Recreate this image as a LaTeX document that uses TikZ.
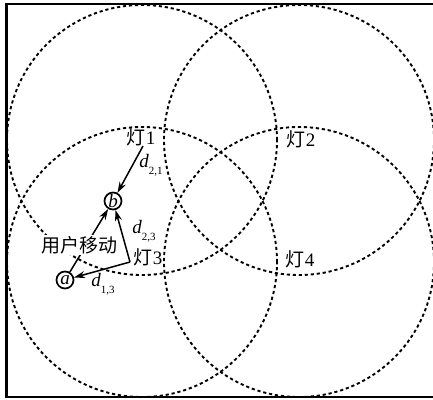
\documentclass[tikz,border=0pt]{standalone}
\usepackage{fontspec}
\setmainfont{Liberation Serif}
\newfontfamily\cjk{Noto Sans CJK SC}
\usetikzlibrary{arrows.meta, calc}

\newcommand{\dlab}[1]{\textit{d}\raisebox{-0.8ex}{\fontsize{11}{11}\selectfont #1}}

\begin{document}
\begin{tikzpicture}[x=1pt, y=-1pt,
    lightrange/.style={draw, dash pattern=on 3.2pt off 2.8pt, line width=1.9pt},
    user/.style={circle, draw, line width=1.7pt, inner sep=0pt, minimum size=17pt,
        font=\itshape\fontsize{19}{19}\selectfont},
    lamp/.style={inner sep=1pt, font=\fontsize{19}{19}\selectfont},
    dist/.style={-{Stealth[length=11pt, width=7pt]}, line width=1.5pt},
    every node/.style={font=\fontsize{19}{19}\selectfont}]
    \path[use as bounding box, clip] (0,0) rectangle (433,399);
    % Frame
    \draw[line width=2.2pt] (6.5,4) rectangle (450,397);

    % Lamp ranges
    \coordinate (l1) at (142,140);
    \coordinate (l2) at (299,140);
    \coordinate (l3) at (142,262);
    \coordinate (l4) at (299,262);
    \foreach \l in {l1,l2,l3,l4}
        \draw[lightrange] (\l) circle[radius=135pt];

    % Lamps
    \node[lamp] (t1) at (141,137) {{\cjk 灯}1};
    \node[lamp] (t2) at (301,139) {{\cjk 灯}2};
    \node[lamp] (t3) at (148,257) {{\cjk 灯}3};
    \node[lamp] (t4) at (300,259) {{\cjk 灯}4};
    \coordinate (s1) at (143,146);
    \coordinate (s3) at (130,262);

    % User positions
    \node[user] (a) at (65,280) {a};
    \node[user] (b) at (113,201) {b};
    \draw[dist] (s1) -- (b);
    \draw[dist] (s3) -- (b);
    \draw[dist] (s3) -- (a);
    \draw[dist] (a) -- (b);
    \node[fill=white, inner sep=1pt] (m) at (79,245) {\cjk 用户移动};

    % Distances
    \node (d21) at (151,165) {\dlab{2,1}};
    \node (d23) at (144,231) {\dlab{2,3}};
    \node (d13) at (103,284) {\dlab{1,3}};
\end{tikzpicture}
\end{document}
